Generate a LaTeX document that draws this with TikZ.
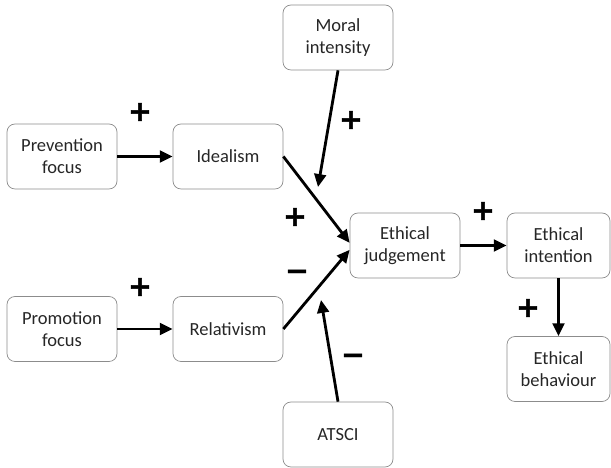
\documentclass[tikz,border=0pt]{standalone}
\usepackage{fontspec}
\setmainfont{Carlito}
\newfontfamily\signfont[FakeBold=1.5]{DejaVu Sans Bold}
\usetikzlibrary{arrows.meta}

\begin{document}
\begin{tikzpicture}[
  box/.style={draw=black!45, line width=0.6pt, rounded corners=2.4mm, minimum width=3.3cm, minimum height=1.95cm, align=center, text=black!85, inner sep=0pt, font=\fontsize{15.8}{18.8}\selectfont},
  arr/.style={line width=2.4pt, -{Triangle[length=11pt,width=10pt]}},
  sign/.style={inner sep=0pt, font=\signfont\fontsize{24}{24}\selectfont}
]
\useasboundingbox (0,0) rectangle (18.33,14.04);

% Antecedentes
\node [box] (prev) at (1.86,9.345) {Prevention\\focus};
\node [box] (promo) at (1.86,4.17) {Promotion\\focus};

% Ideologia
\node [box] (ideal) at (6.84,9.345) {Idealism};
\node [box] (rel) at (6.84,4.17) {Relativism};

% Moderadores
\node [box] (moral) at (10.14,12.915) {Moral\\intensity};
\node [box] (atsci) at (10.14,1.005) {ATSCI};

% Resultado
\node [box] (judg) at (12.15,6.675) {Ethical\\judgement};
\node [box, minimum width=3.09cm] (intent) at (16.755,6.675) {Ethical\\intention};
\node [box, minimum width=3.09cm] (behav) at (16.755,2.97) {Ethical\\behaviour};

% Puntas libres
\coordinate (mtip) at (9.54,8.43);
\coordinate (atip) at (9.63,5.04);

% Flechas
\draw [arr] (prev) -- (ideal);
\draw [arr] (promo) -- (rel);
\draw [arr] (ideal.east) -- ([yshift=0.8mm]judg.west);
\draw [arr] (rel.east) -- ([yshift=-1.3mm]judg.west);
\draw [arr] (moral.south) -- (mtip);
\draw [arr] (atsci.north) -- (atip);
\draw [arr] (judg) -- (intent);
\draw [arr] (intent) -- (behav);

% Signos
\node [sign] (s1) at (4.2,10.68) {+};
\node [sign] (s2) at (10.53,10.44) {+};
\node [sign] (s3) at (8.85,7.53) {+};
\node [sign] (s4) at (8.91,5.79) {−};
\node [sign] (s5) at (4.2,5.43) {+};
\node [sign] (s6) at (10.59,3.27) {−};
\node [sign] (s7) at (14.49,7.71) {+};
\node [sign] (s8) at (15.84,4.8) {+};
\end{tikzpicture}
\end{document}
